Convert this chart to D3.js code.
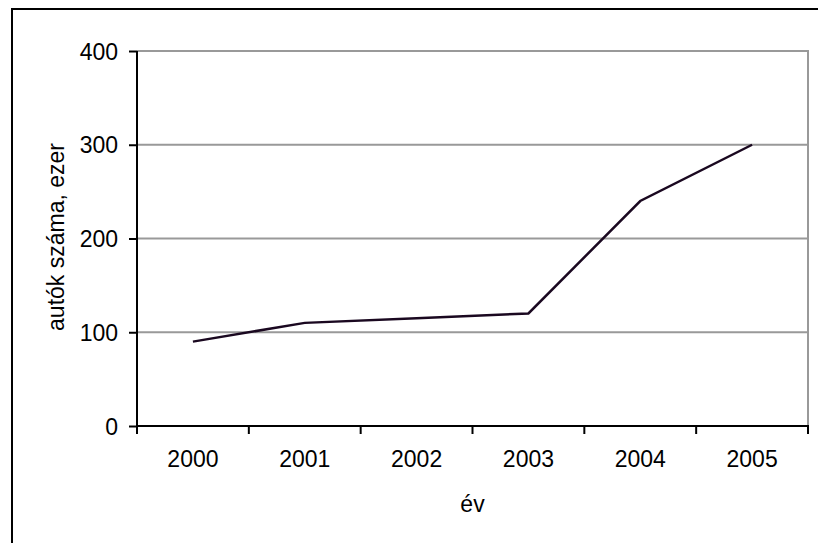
<!DOCTYPE html>
<html>
  <head>
    <meta charset="utf-8">
    <title>autók száma</title>
    <style>
      body { margin: 0; background: #fff; }
      svg { display: block; font-family: "Liberation Sans", Arial, sans-serif; }
    </style>
  </head>
  <body>
    <svg id="chart" width="818" height="543"></svg>
    <script src="https://cdn.jsdelivr.net/npm/d3@7"></script>
    <script>
// data
var years = ["2000", "2001", "2002", "2003", "2004", "2005"];
var cars = [90, 110, 115, 120, 240, 300];
var yTicks = [0, 100, 200, 300, 400];

var svg = d3.select("#chart");
// plot box (don't call these top/left, window.top is taken)
var plotL = 137, plotR = 808, plotT = 51, plotB = 426;

// outer frame, runs off the right and bottom edge
svg.append("rect")
    .attr("x", 12).attr("y", 9)
    .attr("width", 900).attr("height", 700)
    .attr("fill", "none").attr("stroke", "#000").attr("stroke-width", 2);

var x = d3.scaleBand().domain(years).range([plotL, plotR]);
var y = d3.scaleLinear().domain([0, 400]).range([plotB, plotT]);

// gridlines
svg.append("g").selectAll("line")
    .data(yTicks.filter(d => d > 0))
  .enter().append("line")
    .attr("x1", plotL).attr("x2", plotR)
    .attr("y1", d => y(d)).attr("y2", d => y(d))
    .attr("stroke", "#999").attr("stroke-width", 2);

// right border of plot area
svg.append("line")
    .attr("x1", plotR).attr("x2", plotR)
    .attr("y1", plotT - 1).attr("y2", plotB)
    .attr("stroke", "#999").attr("stroke-width", 2);

// y axis
var yAxis = svg.append("g")
    .attr("transform", "translate(" + plotL + ",0)")
    .call(d3.axisLeft(y).tickValues(yTicks).tickSize(8).tickPadding(11));
// x axis, ticks sit between categories
var xAxis = svg.append("g")
    .attr("transform", "translate(0," + plotB + ")")
    .call(d3.axisBottom(x).tickSize(0).tickPadding(25));

[yAxis, xAxis].forEach(g => {
  g.select(".domain").attr("stroke", "#000").attr("stroke-width", 2);
  g.selectAll(".tick line").attr("stroke", "#000").attr("stroke-width", 2);
  g.selectAll("text").attr("fill", "#000").style("font-size", "23px")
    .style("font-family", "Liberation Sans, Arial, sans-serif");
});
yAxis.select(".domain").attr("d", "M0," + (plotB + 1) + "V" + plotT);
xAxis.select(".domain").attr("d", "M" + plotL + ",0H" + (plotR + 1));
yAxis.selectAll(".tick text").attr("dy", "0.35em");

var edges = x.domain().map(d => x(d)).concat([plotR]);
svg.append("g").selectAll("line")
    .data(edges)
  .enter().append("line")
    .attr("x1", d => d).attr("x2", d => d)
    .attr("y1", plotB).attr("y2", plotB + 8)
    .attr("stroke", "#000").attr("stroke-width", 2);

// the line
var line = d3.line()
    .x((d, i) => x(years[i]) + x.bandwidth() / 2)
    .y(d => y(d));
svg.append("path")
    .datum(cars)
    .attr("d", line)
    .attr("fill", "none")
    .attr("stroke", "#1a0820")
    .attr("stroke-width", 2.5);

// axis titles
svg.append("text")
    .attr("x", (plotL + plotR) / 2).attr("y", 512)
    .attr("text-anchor", "middle")
    .style("font-size", "23px")
    .text("év");
svg.append("text")
    .attr("transform", "translate(64,237) rotate(-90)")
    .attr("text-anchor", "middle")
    .style("font-size", "23px")
    .text("autók száma, ezer");
    </script>
  </body>
</html>
